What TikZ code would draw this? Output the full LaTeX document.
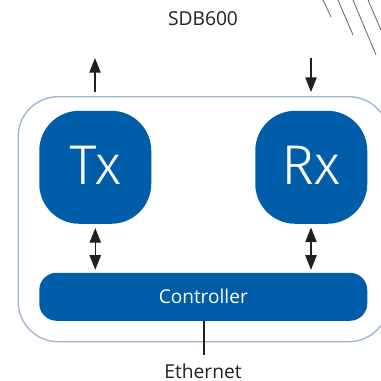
\documentclass[tikz,border=0pt]{standalone}
\usepackage{fontspec}
\setmainfont{Open Sans}
\usetikzlibrary{arrows.meta}
\newfontfamily\light{Fira Sans Light}
\definecolor{blk}{HTML}{005DAA}
\definecolor{frame}{HTML}{9DB2DC}
\definecolor{ink}{HTML}{231F20}
\tikzset{
  px/.style={x=0.75pt,y=-0.75pt},
  block/.style={fill=blk,text=white,inner sep=0pt,anchor=north west},
  bigblock/.style={block,minimum width=84pt,minimum height=84.75pt,rounded corners=30pt,font=\fontsize{42}{42}\selectfont\light},
  label/.style={text=ink,font=\fontsize{14.4}{16}\selectfont,inner sep=0pt},
  conn/.style={draw=ink,line width=1pt},
  tip/.style={conn,-{Triangle[length=11pt,width=8.5pt]}},
  tips/.style={conn,{Triangle[length=11pt,width=8.5pt]}-{Triangle[length=11pt,width=8.5pt]}},
  hatch/.style={draw=black!60,line width=0.6pt},
}
\begin{document}
\begin{tikzpicture}[px]
\useasboundingbox (0,0) rectangle (381,380);
\clip (0,0) rectangle (381,380);
\node[draw=frame,line width=1pt,rounded corners=30pt,minimum width=278pt,minimum height=183.75pt,inner sep=0pt,anchor=north west] (outer) at (17.5,96) {};
\node[bigblock,text depth=3pt] (tx) at (39,110.5) {Tx};
\node[bigblock,text depth=3pt] (rx) at (255,110.5) {Rx};
\node[block,minimum width=246pt,minimum height=36pt,rounded corners=13pt,font=\fontsize{14.3}{16}\selectfont] (ctrl) at (39,272.5) {Controller};
\node[label] (title) at (203,19) {SDB600};
\node[label] (eth) at (203,371.5) {Ethernet};
\coordinate (upstart) at (95,92);
\coordinate (upend) at (95,58);
\coordinate (downstart) at (311,58);
\coordinate (downend) at (311,92);
\coordinate (ethend) at (204,355);
\draw[tip] (upstart) -- (upend);
\draw[tip] (downstart) -- (downend);
\draw[tips,shorten >=2pt,shorten <=3pt] (tx.south) -- (tx.south |- ctrl.north);
\draw[tips,shorten >=2pt,shorten <=3pt] (311,223.5) -- (311,272.5);
\draw[conn,line width=0.8pt] (ethend |- ctrl.south) -- (ethend);
\draw[hatch] (323,0) -- (331,17);
\draw[hatch] (338,0) -- (353,35);
\draw[hatch] (353,0) -- (376,55);
\draw[hatch] (368,0) -- (381,30);
\end{tikzpicture}
\end{document}
